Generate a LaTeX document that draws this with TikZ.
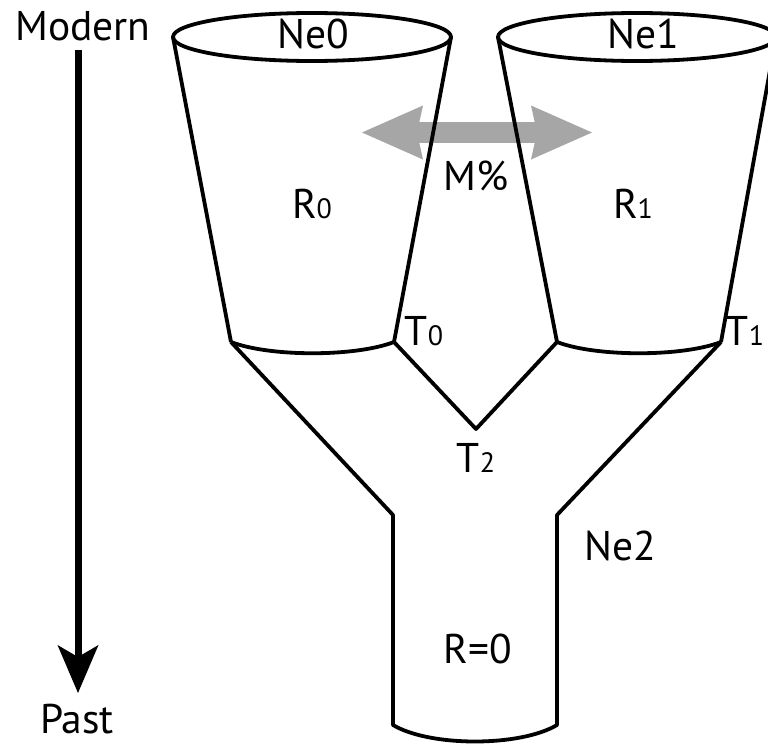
\documentclass[tikz,border=0pt]{standalone}
\usepackage{fontspec}
\setmainfont{PT Sans}
\usetikzlibrary{arrows.meta}

\definecolor{miggray}{RGB}{166,166,166}
\newcommand{\lo}[1]{{\fontsize{28}{30}\selectfont #1}}

\begin{document}
\begin{tikzpicture}
    [x=1pt,y=-1pt,line width=3.8pt,line join=round,
     lbl/.style={anchor=base,inner sep=0pt,font=\fontsize{41.5}{46}\selectfont}]

    \useasboundingbox (0,0) rectangle (768,744);
    \clip (0,0) rectangle (768,744);

    % time axis:
    \node (modern) at (83, 40) [lbl] {Modern};
    \node (past) at (77, 733) [lbl] {Past};
    \coordinate (tstart) at (78, 50);
    \coordinate (tend) at (78, 693);
    \draw [line width=7pt,-{Stealth[length=48pt,width=41pt,inset=12pt,line width=0pt]}]
      (tstart) -- (tend);

    % migration between the two cups:
    \coordinate (mleft) at (362, 132.5);
    \coordinate (mright) at (592, 132.5);
    \draw [miggray,line width=21pt,
      {Stealth[length=61pt,width=54pt,inset=6pt,line width=0pt]}-{Stealth[length=61pt,width=54pt,inset=6pt,line width=0pt]}]
      (mleft) -- (mright);

    % left cup:
    \draw (312, 37) ellipse [x radius=139, y radius=24];
    \draw (173, 37) -- (231, 342);
    \draw (451, 37) -- (394, 342);
    \draw (231, 342) .. controls (270, 357) and (355, 357) .. (394, 342);

    % right cup:
    \draw (637, 37) ellipse [x radius=139, y radius=24];
    \draw (498, 37) -- (557, 342);
    \draw (776, 37) -- (721, 342);
    \draw (557, 342) .. controls (596, 357) and (682, 357) .. (721, 342);

    % ancestral trunk:
    \draw (231, 342) -- (393, 515) -- (393, 725)
      .. controls (430, 747) and (520, 747) .. (557, 725)
      -- (557, 515) -- (721, 342);
    \draw (394, 342) -- (476, 429) -- (557, 342);

    % labels:
    \node (ne0) at (313, 48) [lbl] {Ne0};
    \node (ne1) at (643, 48) [lbl] {Ne1};
    \node (r0) at (312, 218) [lbl] {R\lo{0}};
    \node (r1) at (633, 218) [lbl] {R\lo{1}};
    \node (mig) at (476, 190) [lbl] {M\%};
    \node (t0) at (424, 345) [lbl] {T\lo{0}};
    \node (t1) at (745, 345) [lbl] {T\lo{1}};
    \node (t2) at (476, 472) [lbl] {T\lo{2}};
    \node (ne2) at (620, 560) [lbl] {Ne2};
    \node (rzero) at (478, 663) [lbl] {R=0};

\end{tikzpicture}
\end{document}
